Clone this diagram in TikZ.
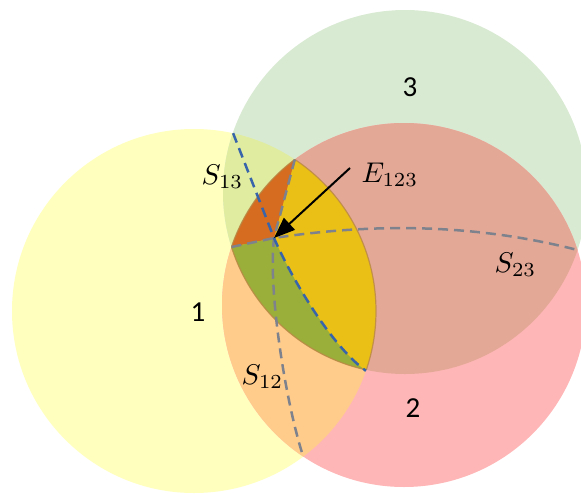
\documentclass[tikz,border=0pt]{standalone}
\usepackage{fontspec}
\newfontfamily\calibrifont{Carlito}
\usetikzlibrary{arrows.meta}
\definecolor{yel}{RGB}{255,255,190}
\definecolor{grn}{RGB}{217,234,211}
\definecolor{pnk}{RGB}{255,182,182}
\definecolor{ora}{RGB}{255,204,140}
\definecolor{ygr}{RGB}{224,237,160}
\definecolor{sal}{RGB}{227,168,150}
\definecolor{dor}{RGB}{213,108,32}
\definecolor{gld}{RGB}{235,192,22}
\definecolor{olv}{RGB}{154,175,58}
\definecolor{dgray}{RGB}{125,130,140}
\definecolor{dblue}{RGB}{55,100,170}
\definecolor{edgecol}{RGB}{185,135,70}
\newcommand\circOne{(194,311) circle[radius=182pt]}
\newcommand\circTwo{(404,305) circle[radius=182pt]}
\newcommand\circThree{(405,192) circle[radius=182pt]}
\begin{document}
\begin{tikzpicture}[x=1pt,y=-1pt,
  dashline/.style={line width=2.5pt, dash pattern=on 10pt off 6pt},
  edgeline/.style={line width=1.2pt, draw=edgecol, draw opacity=0.8},
  numlabel/.style={font=\calibrifont\fontsize{29}{32}\selectfont, inner sep=0pt},
  mathlabel/.style={scale=2.85, inner sep=0pt, anchor=base west}]
\useasboundingbox (0,0) rectangle (581,493);
\clip (0,0) rectangle (581,493);
% points
\coordinate (E) at (274,238);
\coordinate (P12a) at (294.8,159.5);
\coordinate (P12b) at (303.2,456.5);
\coordinate (P13a) at (233.1,133.2);
\coordinate (P13b) at (365.9,370.8);
\coordinate (P23a) at (231.5,247);
\coordinate (P23b) at (577.5,250);
\coordinate (Etail) at (350,168);
% single circles
\fill[yel] \circOne;
\fill[grn] \circThree;
\fill[pnk] \circTwo;
% pairwise overlaps
\begin{scope}
  \clip \circOne;
  \fill[ora] \circTwo;
  \fill[ygr] \circThree;
\end{scope}
\begin{scope}
  \clip \circTwo;
  \fill[sal] \circThree;
\end{scope}
% triple region
\begin{scope}
  \clip \circOne;
  \clip \circTwo;
  \clip \circThree;
  \fill[gld] (0,0) rectangle (581,493);
  \fill[dor] (E) -- (P12a) -- (300,100) -- (150,100) -- (150,247) -- (P23a) -- cycle;
  \fill[olv] (P23a) -- (E) .. controls (290,275) and (330,345) .. (P13b)
     -- (380,470) -- (150,470) -- (150,247) -- cycle;
\end{scope}
% outline of triple region
\begin{scope}
  \clip \circTwo; \clip \circThree;
  \draw[edgeline] \circOne;
\end{scope}
\begin{scope}
  \clip \circOne; \clip \circThree;
  \draw[edgeline] \circTwo;
\end{scope}
\begin{scope}
  \clip \circOne; \clip \circTwo;
  \draw[edgeline] \circThree;
\end{scope}
% section curves
\draw[dashline, dgray] (P12a) -- (E) .. controls (268,290) and (285,400) .. (P12b);
\draw[dashline, dgray] (P23a) -- (E) .. controls (380,222) and (480,225) .. (P23b);
\draw[dashline, dblue] (P13a) -- (E) .. controls (290,275) and (330,345) .. (P13b);
% labels
\node[numlabel] (n3) at (410,87) {3};
\node[numlabel] (n1) at (198,312) {1};
\node[numlabel] (n2) at (413,408) {2};
\node[mathlabel] (s13) at (201,184) {$S_{13}$};
\node[mathlabel] (e123) at (361,182) {$E_{123}$};
\node[mathlabel] (s23) at (494,272) {$S_{23}$};
\node[mathlabel] (s12) at (241,384) {$S_{12}$};
% arrow
\draw[line width=2pt, -{Triangle[length=21pt,width=16pt]}] (Etail) -- (E);
\end{tikzpicture}
\end{document}
